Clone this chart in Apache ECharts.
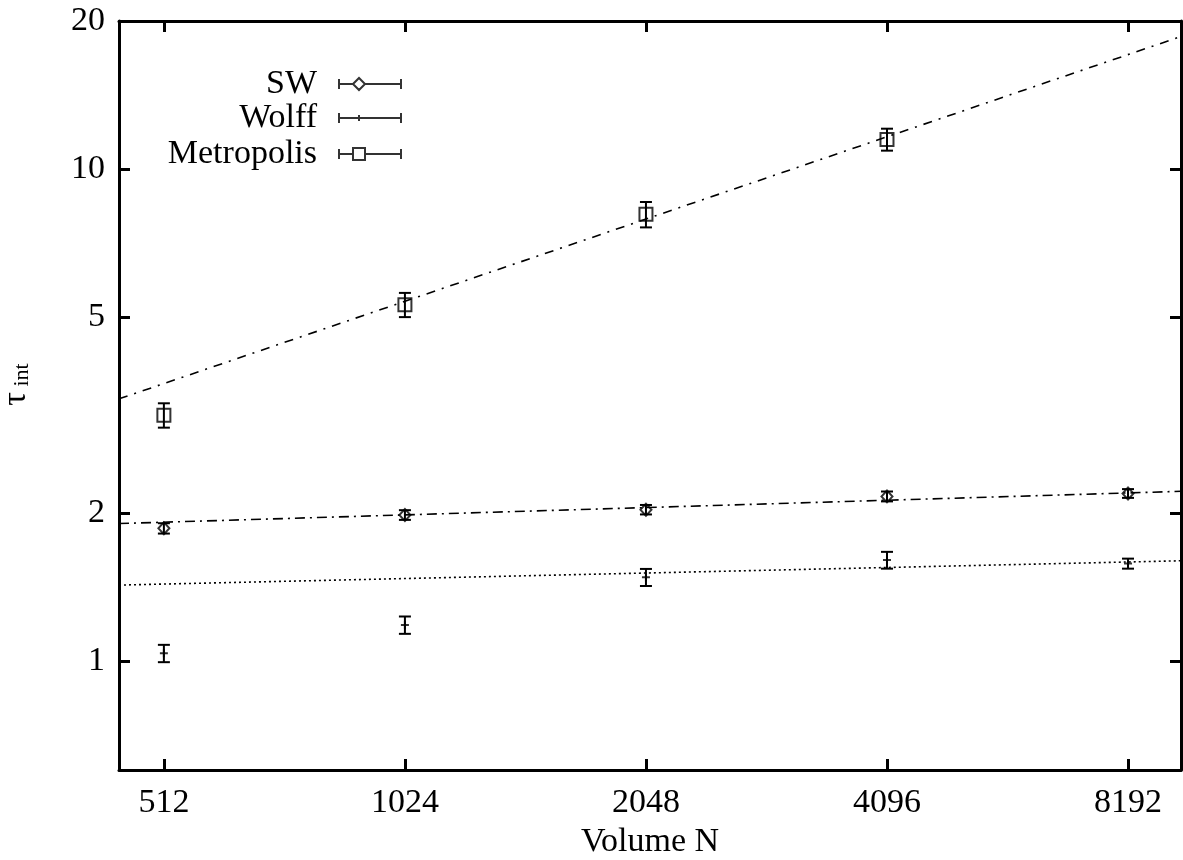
<!DOCTYPE html>
<html>
<head>
<meta charset="utf-8">
<script src="https://cdn.jsdelivr.net/npm/echarts@6/dist/echarts.min.js"></script>
<style>
  html, body { margin: 0; padding: 0; background: #fff; }
  #main { width: 1183px; height: 860px; }
</style>
</head>
<body>
<div id="main"></div>
<script>
// data
var volumes = [512, 1024, 2048, 4096, 8192];
var xTicks = [512, 1024, 2048, 4096, 8192];
var yTicks = [1, 2, 5, 10, 20];

var swTau = [1.86, 1.98, 2.03, 2.16, 2.19];
var swErr = [0.045, 0.045, 0.045, 0.05, 0.045];

var wolffTau = [1.036, 1.183, 1.479, 1.603, 1.577];
var wolffErr = [0.042, 0.048, 0.059, 0.063, 0.037];

var metroVolumes = [512, 1024, 2048, 4096];
var metroTau = [3.16, 5.30, 8.09, 11.49];
var metroErr = [0.18, 0.30, 0.48, 0.59];

// fitted lines, end points at the plot edges
var fitVolumes = [450, 9540];
var swFit = [1.902, 2.212];
var wolffFit = [1.426, 1.598];
var metroFit = [3.41, 18.6];

var FONT = 'Liberation Serif';

function pairs(xs, ys) {
  return xs.map(function (x, i) { return [x, ys[i]]; });
}
function errRows(xs, ys, es) {
  return xs.map(function (x, i) { return [x, ys[i] - es[i], ys[i] + es[i]]; });
}

// vertical error bar with caps
function renderErr(params, api) {
  var x = api.value(0);
  var lo = api.coord([x, api.value(1)]);
  var hi = api.coord([x, api.value(2)]);
  var w = 6;
  var st = { stroke: '#000', lineWidth: 2 };
  return {
    type: 'group',
    children: [
      { type: 'line', shape: { x1: lo[0], y1: lo[1], x2: hi[0], y2: hi[1] }, style: st },
      { type: 'line', shape: { x1: lo[0] - w, y1: lo[1], x2: lo[0] + w, y2: lo[1] }, style: st },
      { type: 'line', shape: { x1: hi[0] - w, y1: hi[1], x2: hi[0] + w, y2: hi[1] }, style: st }
    ]
  };
}

function numLabel(v) {
  return String(+(+v).toPrecision(6));
}

var axisLine = { show: true, onZero: false, lineStyle: { color: '#000', width: 3 } };
var tick = { show: true, inside: true, length: 11, lineStyle: { color: '#000', width: 3 } };

function makeLegend(name, icon, top) {
  return {
    data: [{ name: name, icon: icon }],
    right: 781,
    top: top,
    align: 'right',
    padding: 0,
    itemWidth: 62,
    itemHeight: 12,
    itemStyle: { color: 'transparent', borderColor: '#000', borderWidth: 2 },
    textStyle: { fontFamily: FONT, fontSize: 34, color: '#000', lineHeight: 34, padding: [0, 17, 0, 0] },
    selectedMode: false
  };
}

var chart = echarts.init(document.getElementById('main'), null, { renderer: 'canvas' });

var option = {
  backgroundColor: '#fff',
  animation: false,
  grid: { left: 119, right: 2, top: 21, bottom: 90, outerBoundsMode: 'none', containLabel: false },
  legend: [
    makeLegend('SW', 'path://M0,1V11M0,6H14M26,6H62M62,1V11M14,6L20,0L26,6L20,12Z', 67),
    makeLegend('Wolff', 'path://M0,1V11M0,6H62M62,1V11M20,3V9', 101),
    makeLegend('Metropolis', 'path://M0,1V11M0,6H14M26,6H62M62,1V11M14,0H26V12H14Z', 137)
  ],
  xAxis: [{
    type: 'log',
    logBase: 2,
    min: 450,
    max: 9540,
    name: 'Volume N',
    nameLocation: 'middle',
    nameGap: 50,
    nameTextStyle: { fontFamily: FONT, fontSize: 34, color: '#000' },
    axisLine: axisLine,
    axisTick: Object.assign({ customValues: xTicks }, tick),
    axisLabel: { customValues: xTicks, margin: 16, fontFamily: FONT, fontSize: 34, color: '#000', formatter: numLabel },
    splitLine: { show: false },
    minorTick: { show: false }
  }, {
    type: 'log',
    logBase: 2,
    min: 450,
    max: 9540,
    position: 'top',
    axisLine: axisLine,
    axisTick: Object.assign({ customValues: xTicks }, tick),
    axisLabel: { show: false },
    splitLine: { show: false }
  }],
  yAxis: [{
    type: 'log',
    logBase: 10,
    min: 0.6,
    max: 20,
    name: '{t|τ}{s| int}',
    nameLocation: 'middle',
    nameRotate: 90,
    nameGap: 86,
    nameTextStyle: {
      color: '#000',
      padding: [0, 0, 0, 22],
      rich: {
        t: { fontFamily: FONT, fontSize: 34, color: '#000' },
        s: { fontFamily: FONT, fontSize: 22, color: '#000', padding: [12, 0, 0, 0] }
      }
    },
    axisLine: axisLine,
    axisTick: Object.assign({ customValues: yTicks }, tick),
    axisLabel: { customValues: yTicks, margin: 14, fontFamily: FONT, fontSize: 34, color: '#000', formatter: numLabel },
    splitLine: { show: false },
    minorTick: { show: false }
  }, {
    type: 'log',
    logBase: 10,
    min: 0.6,
    max: 20,
    position: 'right',
    axisLine: axisLine,
    axisTick: Object.assign({ customValues: yTicks }, tick),
    axisLabel: { show: false },
    splitLine: { show: false }
  }],
  series: [
    {
      name: 'SW fit', type: 'line', data: pairs(fitVolumes, swFit), showSymbol: false, silent: true,
      lineStyle: { color: '#000', width: 1.6, type: [10, 5, 2, 5] }
    },
    {
      name: 'Wolff fit', type: 'line', data: pairs(fitVolumes, wolffFit), showSymbol: false, silent: true,
      lineStyle: { color: '#000', width: 1.6, type: [2, 3] }
    },
    {
      name: 'Metropolis fit', type: 'line', data: pairs(fitVolumes, metroFit), showSymbol: false, silent: true,
      lineStyle: { color: '#000', width: 1.6, type: [9, 7, 2, 7] }
    },
    {
      name: 'SW', type: 'scatter', data: pairs(volumes, swTau), symbol: 'diamond', symbolSize: [11, 12],
      itemStyle: { color: 'transparent', borderColor: '#000', borderWidth: 2 }, z: 3
    },
    {
      name: 'SW', type: 'custom', renderItem: renderErr, data: errRows(volumes, swTau, swErr),
      encode: { x: 0, y: [1, 2] }, z: 3
    },
    {
      name: 'Wolff', type: 'scatter', data: pairs(volumes, wolffTau), symbol: 'path://M0,5H10M5,0V10', symbolSize: 8,
      itemStyle: { color: 'transparent', borderColor: '#000', borderWidth: 2 }, z: 3
    },
    {
      name: 'Wolff', type: 'custom', renderItem: renderErr, data: errRows(volumes, wolffTau, wolffErr),
      encode: { x: 0, y: [1, 2] }, z: 3
    },
    {
      name: 'Metropolis', type: 'scatter', data: pairs(metroVolumes, metroTau), symbol: 'rect', symbolSize: 13,
      itemStyle: { color: 'transparent', borderColor: '#000', borderWidth: 2 }, z: 3
    },
    {
      name: 'Metropolis', type: 'custom', renderItem: renderErr, data: errRows(metroVolumes, metroTau, metroErr),
      encode: { x: 0, y: [1, 2] }, z: 3
    }
  ]
};

chart.setOption(option);
</script>
</body>
</html>
